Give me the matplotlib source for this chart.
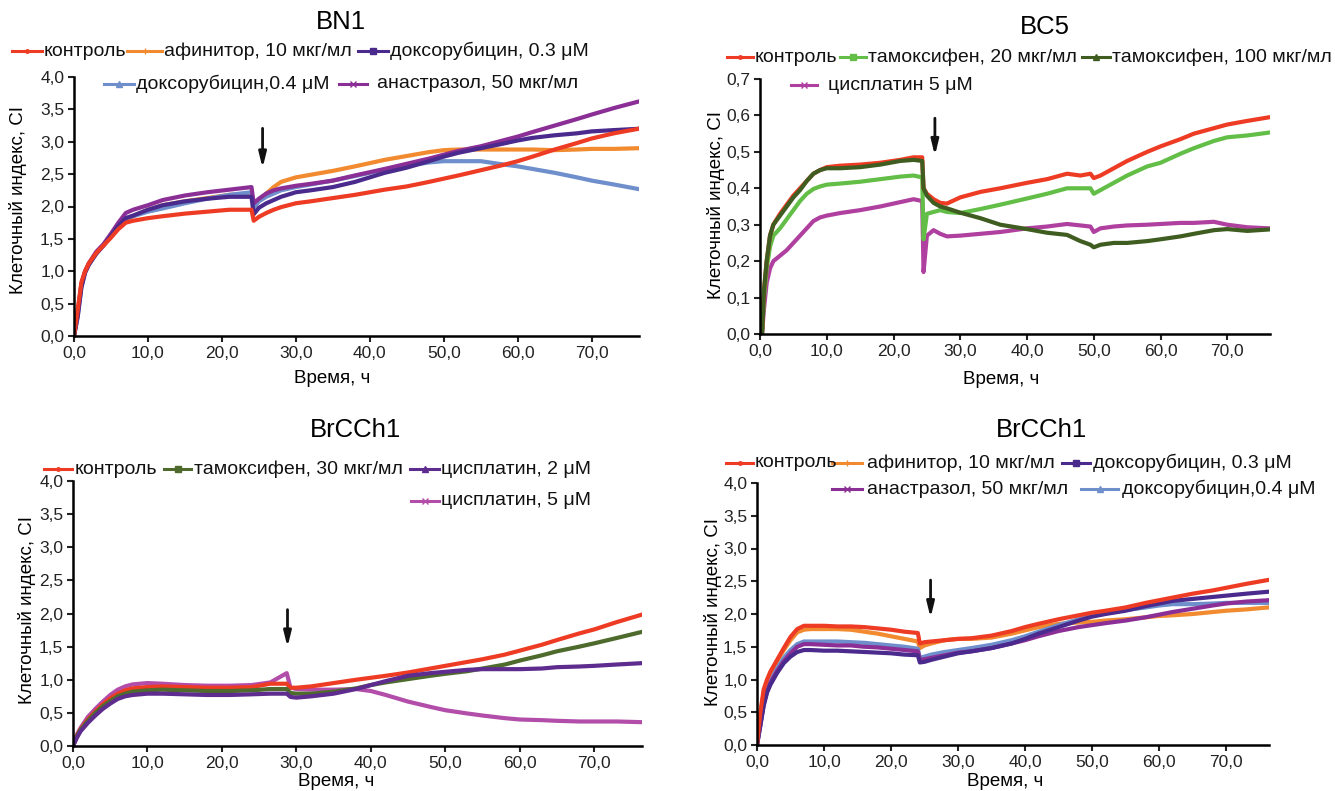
import matplotlib
matplotlib.use("Agg")
import matplotlib.pyplot as plt
from matplotlib.lines import Line2D
from matplotlib.ticker import FuncFormatter, MultipleLocator

plt.rcParams['font.family'] = ['Liberation Sans', 'DejaVu Sans']

# ---- BN1 ----
bn1_t = [0, 0.5, 1, 1.5, 2, 3, 4, 5, 6, 7, 8, 10, 12, 15, 18, 21, 24, 24.3, 25, 26, 27, 28,
         30, 32, 35, 38, 40, 42, 45, 48, 50, 52, 55, 58, 60, 62, 65, 68, 70, 73, 76.3]
bn1_control = [0, 0.4, 0.83, 1.0, 1.12, 1.28, 1.4, 1.52, 1.65, 1.75, 1.78, 1.82, 1.85, 1.89, 1.92, 1.95, 1.95,
               1.78, 1.84, 1.9, 1.95, 1.99, 2.05, 2.08, 2.13, 2.18, 2.22, 2.26, 2.31, 2.38, 2.43, 2.48, 2.56,
               2.64, 2.7, 2.77, 2.88, 2.98, 3.05, 3.13, 3.2]
bn1_afinitor = [0, 0.38, 0.8, 1.0, 1.12, 1.28, 1.4, 1.53, 1.68, 1.8, 1.85, 1.95, 2.02, 2.08, 2.13, 2.18, 2.2,
                2.0, 2.1, 2.2, 2.3, 2.38, 2.45, 2.49, 2.55, 2.62, 2.67, 2.72, 2.78, 2.84, 2.87, 2.88, 2.88,
                2.88, 2.88, 2.88, 2.87, 2.88, 2.89, 2.89, 2.9]
bn1_dox03 = [0, 0.3, 0.75, 0.98, 1.1, 1.27, 1.4, 1.55, 1.7, 1.82, 1.86, 1.95, 2.02, 2.08, 2.12, 2.15, 2.15,
             1.88, 1.98, 2.05, 2.1, 2.15, 2.22, 2.25, 2.3, 2.38, 2.45, 2.52, 2.6, 2.7, 2.77, 2.83, 2.9,
             2.97, 3.02, 3.06, 3.1, 3.13, 3.16, 3.18, 3.2]
bn1_dox04 = [0, 0.3, 0.75, 0.98, 1.1, 1.27, 1.4, 1.55, 1.7, 1.82, 1.85, 1.92, 1.97, 2.05, 2.12, 2.18, 2.22,
             1.98, 2.08, 2.15, 2.2, 2.25, 2.3, 2.34, 2.4, 2.47, 2.52, 2.57, 2.63, 2.68, 2.7, 2.7, 2.7,
             2.65, 2.62, 2.58, 2.52, 2.45, 2.4, 2.34, 2.27]
bn1_anastr = [0, 0.35, 0.8, 1.0, 1.12, 1.3, 1.42, 1.58, 1.75, 1.9, 1.95, 2.02, 2.1, 2.17, 2.22, 2.26, 2.3,
              2.05, 2.12, 2.2, 2.25, 2.28, 2.32, 2.35, 2.4, 2.48, 2.53, 2.58, 2.66, 2.74, 2.8, 2.86, 2.93,
              3.02, 3.08, 3.15, 3.25, 3.35, 3.42, 3.52, 3.62]

# ---- BC5 ----
bc5_t = [0, 0.3, 0.6, 1, 1.5, 2, 3, 4, 5, 6, 7, 8, 9, 10, 12, 15, 18, 21, 23, 24.3, 24.5, 25, 26, 27, 28,
         30, 33, 36, 40, 43, 46, 48, 49.5, 50, 51, 53, 55, 58, 60, 63, 65, 68, 70, 73, 76.3]
bc5_control = [0, 0.0, 0.12, 0.2, 0.27, 0.3, 0.33, 0.355, 0.38, 0.4, 0.42, 0.44, 0.45, 0.458, 0.462, 0.465,
               0.47, 0.478, 0.485, 0.485, 0.4, 0.385, 0.37, 0.36, 0.358, 0.375, 0.39, 0.4, 0.415, 0.425,
               0.44, 0.435, 0.44, 0.428, 0.435, 0.455, 0.475, 0.5, 0.515, 0.535, 0.55, 0.565, 0.575, 0.585, 0.595]
bc5_tam20 = [0, 0.0, 0.1, 0.18, 0.24, 0.27, 0.29, 0.315, 0.34, 0.365, 0.385, 0.398, 0.405, 0.41, 0.413, 0.418,
             0.425, 0.432, 0.435, 0.43, 0.26, 0.33, 0.335, 0.34, 0.335, 0.332, 0.343, 0.355, 0.372, 0.385,
             0.4, 0.4, 0.4, 0.385, 0.395, 0.415, 0.435, 0.46, 0.47, 0.495, 0.51, 0.53, 0.54, 0.545, 0.553]
bc5_tam100 = [0, 0.0, 0.12, 0.2, 0.27, 0.3, 0.325, 0.35, 0.375, 0.395, 0.42, 0.44, 0.45, 0.455, 0.455, 0.458,
              0.465, 0.475, 0.478, 0.475, 0.4, 0.38, 0.36, 0.35, 0.345, 0.333, 0.318, 0.3, 0.288, 0.278,
              0.272, 0.255, 0.245, 0.238, 0.245, 0.25, 0.25, 0.255, 0.26, 0.268, 0.275, 0.285, 0.288, 0.283, 0.287]
bc5_cis5 = [0, 0.0, 0.07, 0.14, 0.18, 0.2, 0.215, 0.23, 0.25, 0.27, 0.29, 0.31, 0.32, 0.325, 0.332, 0.34,
            0.35, 0.362, 0.37, 0.365, 0.17, 0.27, 0.285, 0.275, 0.268, 0.27, 0.275, 0.28, 0.29, 0.295,
            0.302, 0.298, 0.295, 0.28, 0.29, 0.295, 0.298, 0.3, 0.302, 0.305, 0.305, 0.308, 0.3, 0.293, 0.29]

# ---- BrCCh1 (left) ----
br1_t = [0, 0.5, 1, 2, 3, 4, 5, 6, 7, 8, 10, 12, 15, 18, 21, 24, 26.5, 28.7, 29.2, 30, 32, 35, 38, 40,
         42, 45, 48, 50, 53, 55, 58, 60, 63, 65, 68, 70, 73, 76.3]
br1_control = [0, 0.15, 0.25, 0.4, 0.52, 0.63, 0.72, 0.79, 0.84, 0.87, 0.89, 0.9, 0.89, 0.88, 0.88, 0.89,
               0.94, 0.94, 0.88, 0.88, 0.9, 0.95, 1.0, 1.03, 1.06, 1.11, 1.17, 1.21, 1.27, 1.31, 1.38,
               1.44, 1.53, 1.6, 1.7, 1.76, 1.87, 1.98]
br1_tam30 = [0, 0.14, 0.24, 0.38, 0.5, 0.6, 0.68, 0.75, 0.79, 0.82, 0.84, 0.85, 0.84, 0.83, 0.83, 0.84,
             0.86, 0.86, 0.8, 0.79, 0.79, 0.82, 0.87, 0.92, 0.96, 1.01, 1.06, 1.09, 1.13, 1.17, 1.23,
             1.29, 1.37, 1.43, 1.5, 1.55, 1.63, 1.72]
br1_cis2 = [0, 0.12, 0.22, 0.35, 0.46, 0.56, 0.64, 0.71, 0.75, 0.77, 0.79, 0.79, 0.78, 0.77, 0.77, 0.78,
            0.79, 0.79, 0.74, 0.73, 0.75, 0.79, 0.86, 0.92, 0.98, 1.06, 1.1, 1.12, 1.15, 1.16, 1.16,
            1.16, 1.17, 1.19, 1.2, 1.21, 1.23, 1.25]
br1_cis5 = [0, 0.17, 0.27, 0.44, 0.56, 0.67, 0.77, 0.85, 0.9, 0.93, 0.95, 0.94, 0.92, 0.91, 0.91, 0.92,
            0.96, 1.1, 0.88, 0.86, 0.85, 0.85, 0.86, 0.83, 0.77, 0.67, 0.59, 0.54, 0.49, 0.46, 0.42,
            0.4, 0.39, 0.38, 0.37, 0.37, 0.37, 0.36]

# ---- BrCCh1 (right) ----
br2_t = [0, 0.5, 1, 1.5, 2, 3, 4, 5, 6, 7, 8, 10, 12, 14, 16, 18, 20, 22, 24, 24.3, 25, 26, 28, 30, 32,
         35, 38, 40, 42, 45, 48, 50, 52, 55, 58, 60, 62, 65, 68, 70, 73, 76.3]
br2_control = [0, 0.5, 0.85, 1.0, 1.12, 1.3, 1.48, 1.65, 1.77, 1.82, 1.82, 1.82, 1.81, 1.81, 1.8, 1.78,
               1.76, 1.73, 1.71, 1.55, 1.57, 1.58, 1.6, 1.62, 1.63, 1.67, 1.74, 1.8, 1.85, 1.92, 1.98,
               2.02, 2.05, 2.1, 2.17, 2.21, 2.25, 2.31, 2.36, 2.4, 2.46, 2.52]
br2_afinitor = [0, 0.45, 0.8, 0.97, 1.1, 1.28, 1.45, 1.6, 1.72, 1.76, 1.77, 1.77, 1.77, 1.76, 1.73, 1.7,
                1.66, 1.62, 1.58, 1.48, 1.52, 1.55, 1.6, 1.62, 1.62, 1.64, 1.7, 1.75, 1.8, 1.85, 1.87,
                1.88, 1.9, 1.92, 1.95, 1.97, 1.98, 2.0, 2.03, 2.05, 2.07, 2.1]
br2_dox03 = [0, 0.3, 0.6, 0.8, 0.92, 1.1, 1.25, 1.35, 1.42, 1.45, 1.45, 1.44, 1.44, 1.43, 1.42, 1.41,
             1.4, 1.38, 1.37, 1.26, 1.27, 1.3, 1.35, 1.4, 1.43, 1.48, 1.55, 1.62, 1.7, 1.8, 1.9,
             1.96, 2.0, 2.05, 2.12, 2.16, 2.2, 2.23, 2.26, 2.28, 2.31, 2.34]
br2_anastr = [0, 0.3, 0.62, 0.82, 0.95, 1.13, 1.28, 1.4, 1.5, 1.54, 1.54, 1.53, 1.52, 1.52, 1.5, 1.49,
              1.47, 1.45, 1.43, 1.3, 1.31, 1.33, 1.37, 1.41, 1.43, 1.48, 1.55, 1.6, 1.66, 1.74, 1.8,
              1.83, 1.86, 1.9, 1.95, 1.99, 2.03, 2.08, 2.13, 2.16, 2.19, 2.21]
br2_dox04 = [0, 0.32, 0.65, 0.85, 0.98, 1.17, 1.33, 1.45, 1.54, 1.58, 1.58, 1.58, 1.58, 1.57, 1.56, 1.54,
             1.52, 1.5, 1.47, 1.33, 1.35, 1.38, 1.42, 1.45, 1.48, 1.53, 1.6, 1.66, 1.73, 1.83, 1.92,
             1.97, 2.01, 2.06, 2.1, 2.13, 2.15, 2.15, 2.16, 2.17, 2.17, 2.17]

RED = '#ee3b24'
ORANGE = '#f28a30'
DKPURPLE = '#4a2a8c'
BLUE = '#6e8fcb'
PURPLE = '#8b2f97'
GREEN = '#63be47'
DKGREEN = '#3f5d20'
MAGENTA = '#b0409f'
DKGREEN2 = '#4e6b2d'
PURPLE2 = '#5e2b8e'
MAGENTA2 = '#b24daa'

W, H = 1335, 791
fig = plt.figure(figsize=(W / 100, H / 100), dpi=100)


def px_axes(left, top, right, bottom):
    return fig.add_axes([left / W, 1 - bottom / H, (right - left) / W, (bottom - top) / H])


def fx(x):
    return x / W


def fy(y):
    return 1 - y / H


def style_axes(ax, ymax, ystep, yfmt):
    ax.set_xlim(0, 76.4)
    ax.set_ylim(0, ymax)
    ax.xaxis.set_major_locator(MultipleLocator(10))
    ax.yaxis.set_major_locator(MultipleLocator(ystep))
    ax.xaxis.set_major_formatter(FuncFormatter(lambda v, p: f"{v:.1f}".replace('.', ',')))
    ax.yaxis.set_major_formatter(FuncFormatter(lambda v, p: (yfmt % v).replace('.', ',')))
    for s in ['top', 'right']:
        ax.spines[s].set_visible(False)
    for s in ['left', 'bottom']:
        ax.spines[s].set_linewidth(1.8)
    ax.tick_params(direction='out', length=4, width=1.5, labelsize=12.5, colors='#222222', pad=3)
    ax.patch.set_alpha(0)


def legend_entry(x0, x1, y, tx, label, color, marker):
    xm = (x0 + x1) / 2
    fig.add_artist(Line2D([fx(x0), fx(xm), fx(x1)], [fy(y)] * 3, transform=fig.transFigure,
                          color=color, lw=2.2, marker=marker, markevery=[1], markersize=5))
    fig.text(fx(tx), fy(y), label, ha='left', va='center', fontsize=14, color='#111111')


def arrow(ax, x, ytop, ytip):
    ax.annotate('', xy=(x, ytip), xytext=(x, ytop),
                arrowprops=dict(arrowstyle='-|>,head_length=0.9,head_width=0.22', lw=2, color='#111111'))


LW = 3

# panel 1
ax1 = px_axes(74, 77, 639, 336)
ax1.plot(bn1_t, bn1_afinitor, color=ORANGE, lw=LW)
ax1.plot(bn1_t, bn1_dox04, color=BLUE, lw=LW)
ax1.plot(bn1_t, bn1_anastr, color=PURPLE, lw=LW)
ax1.plot(bn1_t, bn1_dox03, color=DKPURPLE, lw=LW)
ax1.plot(bn1_t, bn1_control, color=RED, lw=LW)
style_axes(ax1, 4.0, 0.5, '%.1f')
arrow(ax1, 25.5, 3.25, 2.55)
fig.text(fx(341), fy(22), 'BN1', ha='center', va='center', fontsize=18.5)
fig.text(fx(18), fy(200), 'Клеточный индекс, CI', rotation=90, ha='center', va='center', fontsize=13.5)
fig.text(fx(332), fy(378), 'Время, ч', ha='center', va='center', fontsize=13.5)
legend_entry(12, 42, 51, 44, 'контроль', RED, '.')
legend_entry(127, 162, 51, 164, 'афинитор, 10 мкг/мл', ORANGE, '+')
legend_entry(358, 388, 51, 390, 'доксорубицин, 0.3 μM', DKPURPLE, 's')
legend_entry(104, 134, 84, 136, 'доксорубицин,0.4 μM', BLUE, '^')
legend_entry(339, 367, 84, 377, 'анастразол, 50 мкг/мл', PURPLE, 'x')

# panel 2
ax2 = px_axes(760, 79, 1270, 334)
ax2.plot(bc5_t, bc5_cis5, color=MAGENTA, lw=LW)
ax2.plot(bc5_t, bc5_tam20, color=GREEN, lw=LW)
ax2.plot(bc5_t, bc5_control, color=RED, lw=LW)
ax2.plot(bc5_t, bc5_tam100, color=DKGREEN, lw=LW)
style_axes(ax2, 0.7, 0.1, '%.1f')
arrow(ax2, 26.2, 0.60, 0.482)
fig.text(fx(1045), fy(27), 'BC5', ha='center', va='center', fontsize=18.5)
fig.text(fx(716), fy(205), 'Клеточный индекс, CI', rotation=90, ha='center', va='center', fontsize=13.5)
fig.text(fx(1001), fy(379), 'Время, ч', ha='center', va='center', fontsize=13.5)
legend_entry(727, 753, 57, 755, 'контроль', RED, '.')
legend_entry(840, 866, 57, 868, 'тамоксифен, 20 мкг/мл', GREEN, 's')
legend_entry(1082, 1110, 57, 1112, 'тамоксифен, 100 мкг/мл', DKGREEN, '^')
legend_entry(791, 817, 85, 828, 'цисплатин 5 μM', MAGENTA, 'x')

# panel 3
ax3 = px_axes(73, 481, 642, 746)
ax3.plot(br1_t, br1_cis5, color=MAGENTA2, lw=LW)
ax3.plot(br1_t, br1_control, color=RED, lw=LW)
ax3.plot(br1_t, br1_tam30, color=DKGREEN2, lw=LW)
ax3.plot(br1_t, br1_cis2, color=PURPLE2, lw=LW)
style_axes(ax3, 4.0, 0.5, '%.1f')
arrow(ax3, 28.8, 2.1, 1.45)
fig.text(fx(356), fy(430), 'BrCCh1', ha='center', va='center', fontsize=18.5)
fig.text(fx(27), fy(610), 'Клеточный индекс, CI', rotation=90, ha='center', va='center', fontsize=13.5)
fig.text(fx(336), fy(782), 'Время, ч', ha='center', va='center', fontsize=13.5)
legend_entry(44, 72, 469, 75, 'контроль', RED, '.')
legend_entry(164, 191, 469, 194, 'тамоксифен, 30 мкг/мл', DKGREEN2, 's')
legend_entry(410, 439, 469, 441, 'цисплатин, 2 μM', PURPLE2, '^')
legend_entry(411, 439, 501, 441, 'цисплатин, 5 μM', MAGENTA2, 'x')

# panel 4
ax4 = px_axes(757, 483, 1269, 745)
ax4.plot(br2_t, br2_afinitor, color=ORANGE, lw=LW)
ax4.plot(br2_t, br2_dox04, color=BLUE, lw=LW)
ax4.plot(br2_t, br2_anastr, color=PURPLE, lw=LW)
ax4.plot(br2_t, br2_dox03, color=DKPURPLE, lw=LW)
ax4.plot(br2_t, br2_control, color=RED, lw=LW)
style_axes(ax4, 4.0, 0.5, '%.1f')
arrow(ax4, 25.9, 2.56, 1.9)
fig.text(fx(1041), fy(430), 'BrCCh1', ha='center', va='center', fontsize=18.5)
fig.text(fx(713), fy(612), 'Клеточный индекс, CI', rotation=90, ha='center', va='center', fontsize=13.5)
fig.text(fx(1005), fy(782), 'Время, ч', ha='center', va='center', fontsize=13.5)
legend_entry(726, 753, 463, 755, 'контроль', RED, '.')
legend_entry(832, 862, 463, 867, 'афинитор, 10 мкг/мл', ORANGE, '+')
legend_entry(1062, 1090, 463, 1093, 'доксорубицин, 0.3 μM', DKPURPLE, 's')
legend_entry(832, 862, 489, 867, 'анастразол, 50 мкг/мл', PURPLE, 'x')
legend_entry(1081, 1118, 489, 1122, 'доксорубицин,0.4 μM', BLUE, '^')

fig.savefig('out.png', dpi=100)
